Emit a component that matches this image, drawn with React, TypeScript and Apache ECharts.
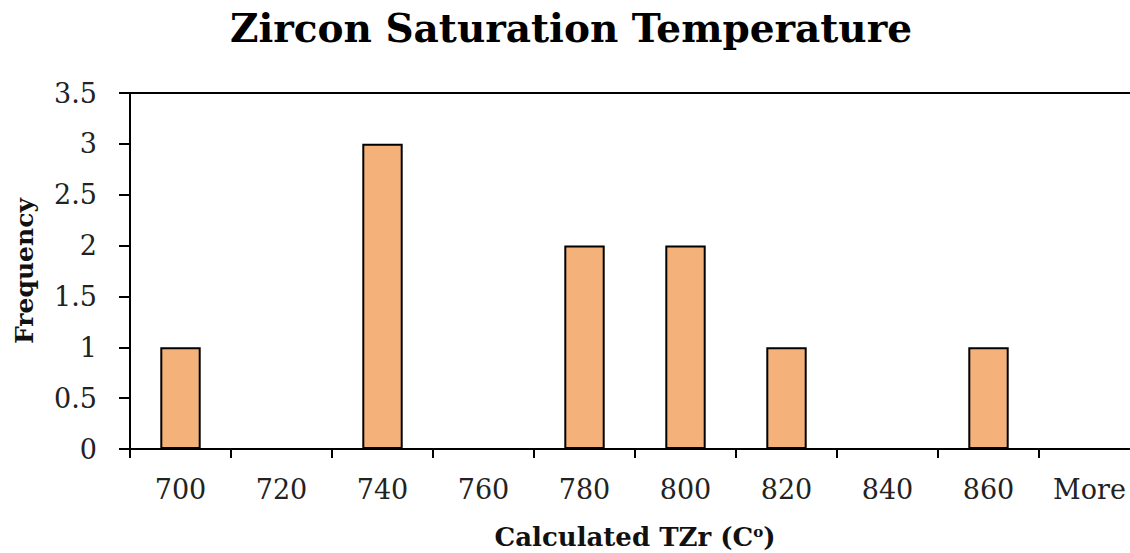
import React, { useEffect, useRef } from "react";
import * as echarts from "echarts";

const categories = ["700", "720", "740", "760", "780", "800", "820", "840", "860", "More"];
const frequency = [1, 0, 3, 0, 2, 2, 1, 0, 1, 0];
const yTicks = { min: 0, max: 3.5, interval: 0.5 };

const SERIF = "'DejaVu Serif', serif";

export default function App() {
  const ref = useRef<HTMLDivElement>(null);

  useEffect(() => {
    if (!ref.current) return;
    const chart = echarts.init(ref.current, null, { renderer: "svg" });
    chart.setOption({
      animation: false,
      backgroundColor: "#ffffff",
      title: {
        text: "Zircon Saturation Temperature",
        left: 566,
        textAlign: "center",
        top: 3,
        textStyle: { fontFamily: SERIF, fontWeight: "bold", fontSize: 39, color: "#000" },
      },
      grid: { left: 130, top: 93, right: 10, bottom: 104, containLabel: false, outerBoundsMode: "none" },
      xAxis: [
        {
          type: "category",
          data: categories,
          boundaryGap: true,
          axisLine: { lineStyle: { color: "#000", width: 2 } },
          axisTick: { show: true, length: 9, lineStyle: { color: "#000", width: 2 } },
          axisLabel: { fontFamily: SERIF, fontSize: 27, color: "#222", margin: 27 },
          name: "Calculated TZr (C{sup|o})",
          nameLocation: "middle",
          nameGap: 75,
          nameTextStyle: {
            fontFamily: SERIF,
            fontWeight: "bold",
            fontSize: 26,
            color: "#111",
            rich: {
              sup: { fontFamily: SERIF, fontWeight: "bold", fontSize: 15, color: "#111", verticalAlign: "top", padding: [0, 0, 10, 0] },
            },
          },
        },
        {
          type: "category",
          data: categories,
          position: "top",
          axisLine: { lineStyle: { color: "#000", width: 2 } },
          axisTick: { show: false },
          axisLabel: { show: false },
        },
      ],
      yAxis: {
        type: "value",
        min: yTicks.min,
        max: yTicks.max,
        interval: yTicks.interval,
        axisLine: { show: true, lineStyle: { color: "#000", width: 2 } },
        axisTick: { show: true, length: 11, lineStyle: { color: "#000", width: 2 } },
        splitLine: { show: false },
        axisLabel: { fontFamily: SERIF, fontSize: 27, color: "#222", margin: 33 },
        name: "Frequency",
        nameLocation: "middle",
        nameGap: 93,
        nameRotate: 90,
        nameTextStyle: { fontFamily: SERIF, fontWeight: "bold", fontSize: 25, color: "#111" },
      },
      series: [
        {
          type: "bar",
          data: frequency,
          barWidth: "40%",
          itemStyle: { color: "#F4B27A", borderColor: "#000", borderWidth: 2 },
        },
      ],
    });
    return () => chart.dispose();
  }, []);

  return (
    <div style={{ position: "fixed", left: 0, top: 0, width: 1130, height: 553, overflow: "hidden", background: "#fff" }}>
      <div ref={ref} style={{ width: 1150, height: 553 }} />
    </div>
  );
}
